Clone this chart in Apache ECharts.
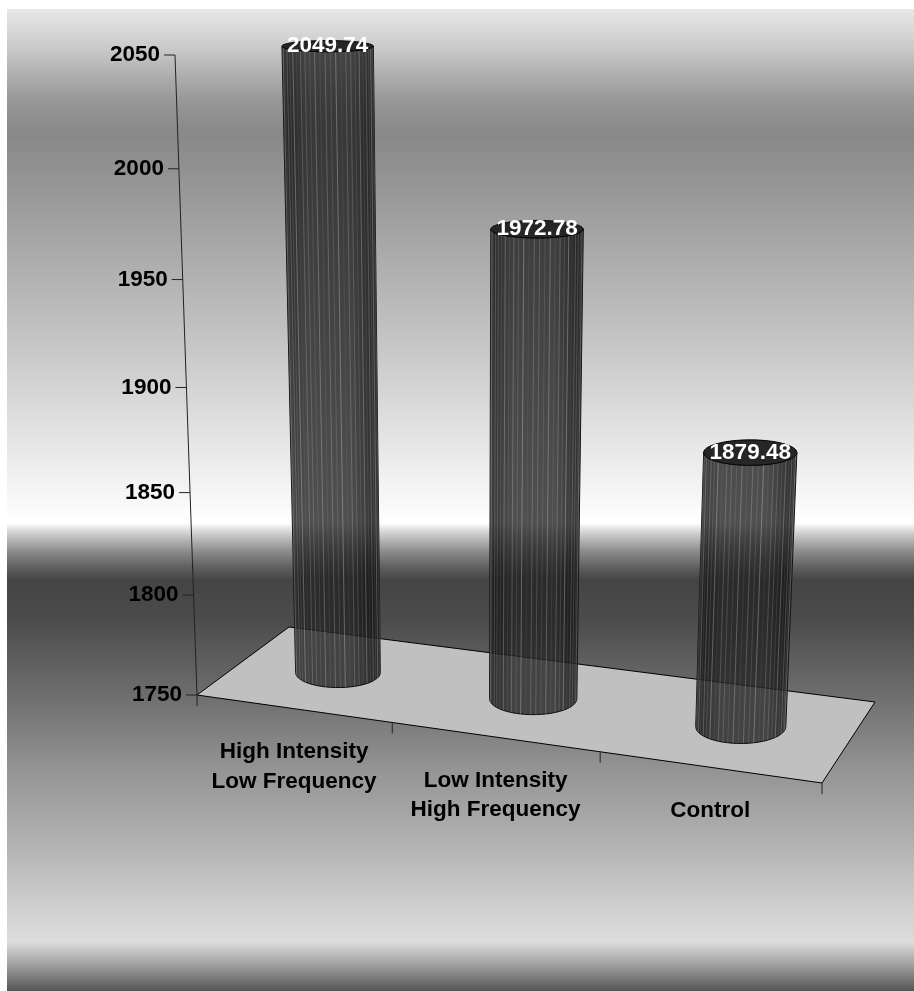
<!DOCTYPE html>
<html>
<head>
<meta charset="utf-8">
<style>html,body{margin:0;padding:0;background:#fff}#chart{width:914px;height:991px}</style>
<script src="https://cdn.jsdelivr.net/npm/echarts@6/dist/echarts.min.js"></script>
</head>
<body>
<div id="chart"></div>
<script>
const categories = ['High Intensity\nLow Frequency', 'Low Intensity\nHigh Frequency', 'Control'];
const values = [2049.74, 1972.78, 1879.48];
const valueTicks = [1750, 1800, 1850, 1900, 1950, 2000, 2050];

const FONT = 'bold 22.5px "Liberation Sans", Arial, sans-serif';

// Floor corners on screen: front-left, front-right, back-right, back-left.
const Q = [[197, 695], [822, 783], [875, 702], [289, 627]];
// Screen position of the top of the value axis and its depth factor.
const AXIS_TOP = [175, 55];
const TOP_W = 0.925;

// 3x4 perspective camera built from the floor quad and the axis top.
const camera = (function () {
  const [p0, p1, p2, p3] = Q;
  const dx1 = p1[0] - p2[0], dx2 = p3[0] - p2[0], sx = p0[0] - p1[0] + p2[0] - p3[0];
  const dy1 = p1[1] - p2[1], dy2 = p3[1] - p2[1], sy = p0[1] - p1[1] + p2[1] - p3[1];
  const den = dx1 * dy2 - dx2 * dy1;
  const g = (sx * dy2 - dx2 * sy) / den;
  const k = (dx1 * sy - sx * dy1) / den;
  return {
    x: [p1[0] - p0[0] + g * p1[0], p3[0] - p0[0] + k * p3[0], TOP_W * AXIS_TOP[0] - p0[0], p0[0]],
    y: [p1[1] - p0[1] + g * p1[1], p3[1] - p0[1] + k * p3[1], TOP_W * AXIS_TOP[1] - p0[1], p0[1]],
    w: [g, k, TOP_W - 1, 1]
  };
})();

// u runs along the categories, d into the depth, h up the value axis (all 0..1).
function project(u, d, h) {
  const dot = r => r[0] * u + r[1] * d + r[2] * h + r[3];
  const w = dot(camera.w);
  return { x: dot(camera.x) / w, y: dot(camera.y) / w, w };
}

// Normalised chart position of a data point, read through the grid's axes.
function unit(params, api, cat, val) {
  const c = api.coord([cat, val]);
  const s = params.coordSys;
  return { u: (c[0] - s.x) / s.width, h: 1 - (c[1] - s.y) / s.height };
}

const line = (a, b, stroke, width) => ({
  type: 'line',
  shape: { x1: a.x, y1: a.y, x2: b.x, y2: b.y },
  style: { stroke, lineWidth: width || 1, fill: null }
});

function renderFloor() {
  const c = [project(0, 0, 0), project(1, 0, 0), project(1, 1, 0), project(0, 1, 0)];
  const kids = [{
    type: 'polygon',
    shape: { points: c.map(p => [p.x, p.y]) },
    style: { fill: '#c0c0c0', stroke: '#000', lineWidth: 1 }
  }];
  kids.push(line(project(0, 0, 0), project(0, 0, 1), '#222'));
  for (let i = 0; i <= 3; i++) {
    const p = project(i / 3, 0, 0);
    kids.push(line(p, { x: p.x, y: p.y + 11 }, '#222'));
  }
  return { type: 'group', children: kids };
}

function renderValueTick(params, api) {
  const v = api.value(1);
  const p = project(0, 0, unit(params, api, 0, v).h);
  return {
    type: 'group',
    children: [
      line({ x: p.x - 11, y: p.y }, p, '#222'),
      {
        type: 'text',
        style: {
          text: String(v), x: p.x - 15, y: p.y,
          font: FONT, fill: '#000', align: 'right', verticalAlign: 'middle'
        }
      }
    ]
  };
}

function renderCategoryLabel(params, api) {
  const i = api.value(0);
  const p = project(unit(params, api, i, 1750).u, 0, 0);
  return {
    type: 'text',
    style: {
      text: categories[i], x: p.x + 1, y: p.y + 29,
      font: FONT, lineHeight: 29.5, fill: '#000', align: 'center', verticalAlign: 'top'
    }
  };
}

const DEPTH_R = 0.215;
const SCREEN_R = 43.3;
const ARC_STEPS = 32;
const FACETS = 27;
// Brightness of the light facet seams, repeated around each cylinder.
const SEAM = [0.16, 0.1, 0.24, 0.08, 0.2, 0.12, 0.28, 0.06, 0.18];

function ellipseAt(u, h) {
  const c = project(u, 0.5, h);
  const front = project(u, 0.5 - DEPTH_R, h);
  const back = project(u, 0.5 + DEPTH_R, h);
  return { x: c.x, y: (front.y + back.y) / 2, rx: SCREEN_R / c.w, ry: (front.y - back.y) / 2 };
}

function renderBar(params, api) {
  const i = api.value(0);
  const val = api.value(1);
  const pos = unit(params, api, i, val);
  const base = ellipseAt(pos.u, 0);
  const top = ellipseAt(pos.u, pos.h);
  const pts = [];
  for (let k = 0; k <= ARC_STEPS; k++) {
    const t = Math.PI * k / ARC_STEPS;
    pts.push([base.x - base.rx * Math.cos(t), base.y + base.ry * Math.sin(t)]);
  }
  for (let k = 0; k <= ARC_STEPS; k++) {
    const t = Math.PI * k / ARC_STEPS;
    pts.push([top.x + top.rx * Math.cos(t), top.y + top.ry * Math.sin(t)]);
  }
  const kids = [{
    type: 'polygon',
    shape: { points: pts },
    style: {
      fill: new echarts.graphic.LinearGradient(0, 0, 1, 0, [
        { offset: 0, color: 'rgba(18,18,18,0.86)' },
        { offset: 0.25, color: 'rgba(36,36,36,0.8)' },
        { offset: 0.7, color: 'rgba(36,36,36,0.8)' },
        { offset: 1, color: 'rgba(14,14,14,0.88)' }
      ]),
      stroke: '#0a0a0a',
      lineWidth: 1
    }
  }];
  for (let k = 1; k < FACETS; k++) {
    const t = Math.PI * k / FACETS;
    const a = SEAM[(k + i * 4) % SEAM.length];
    kids.push(line(
      { x: base.x - base.rx * Math.cos(t), y: base.y + base.ry * Math.sin(t) },
      { x: top.x - top.rx * Math.cos(t), y: top.y + top.ry * Math.sin(t) },
      'rgba(255,255,255,' + a + ')'
    ));
  }
  kids.push({
    type: 'ellipse',
    shape: { cx: top.x, cy: top.y, rx: top.rx, ry: top.ry },
    style: { fill: '#262626', stroke: '#050505', lineWidth: 1 }
  });
  kids.push({
    type: 'text',
    style: {
      text: val.toFixed(2), x: top.x, y: top.y,
      font: FONT, fill: '#fff', align: 'center', verticalAlign: 'middle'
    }
  });
  return { type: 'group', children: kids };
}

const chart = echarts.init(document.getElementById('chart'), null, { width: 914, height: 991 });
chart.setOption({
  animation: false,
  backgroundColor: '#fff',
  graphic: [{
    type: 'rect',
    z: -10,
    silent: true,
    shape: { x: 7, y: 9, width: 907, height: 982 },
    style: {
      fill: new echarts.graphic.LinearGradient(0, 0, 0, 1, [
        [9, 0xe8], [30, 0xd8], [50, 0xc8], [80, 0xaa], [100, 0x98], [133, 0x88], [200, 0x9a],
        [350, 0xc8], [450, 0xe8], [523, 0xff], [533, 0xd0], [550, 0x90], [567, 0x60], [580, 0x44],
        [620, 0x4c], [700, 0x70], [770, 0x94], [840, 0xb0], [900, 0xcc], [942, 0xdd], [965, 0xa0], [991, 0x55]
      ].map(([y, g]) => ({ offset: (y - 9) / 982, color: 'rgb(' + g + ',' + g + ',' + g + ')' })))
    }
  }],
  grid: { left: 100, right: 100, top: 100, bottom: 100, show: false },
  xAxis: { type: 'category', data: categories, show: false },
  yAxis: { type: 'value', min: 1750, max: 2050, interval: 50, show: false },
  series: [
    { type: 'custom', z: 2, silent: true, renderItem: renderFloor, data: [[0, 1750]] },
    { type: 'custom', z: 3, silent: true, renderItem: renderValueTick, data: valueTicks.map(v => [0, v]) },
    { type: 'custom', z: 3, silent: true, renderItem: renderCategoryLabel, data: categories.map((c, i) => [i, 1750]) },
    { type: 'custom', z: 4, silent: true, renderItem: renderBar, data: values.map((v, i) => [i, v]) }
  ]
});
</script>
</body>
</html>
